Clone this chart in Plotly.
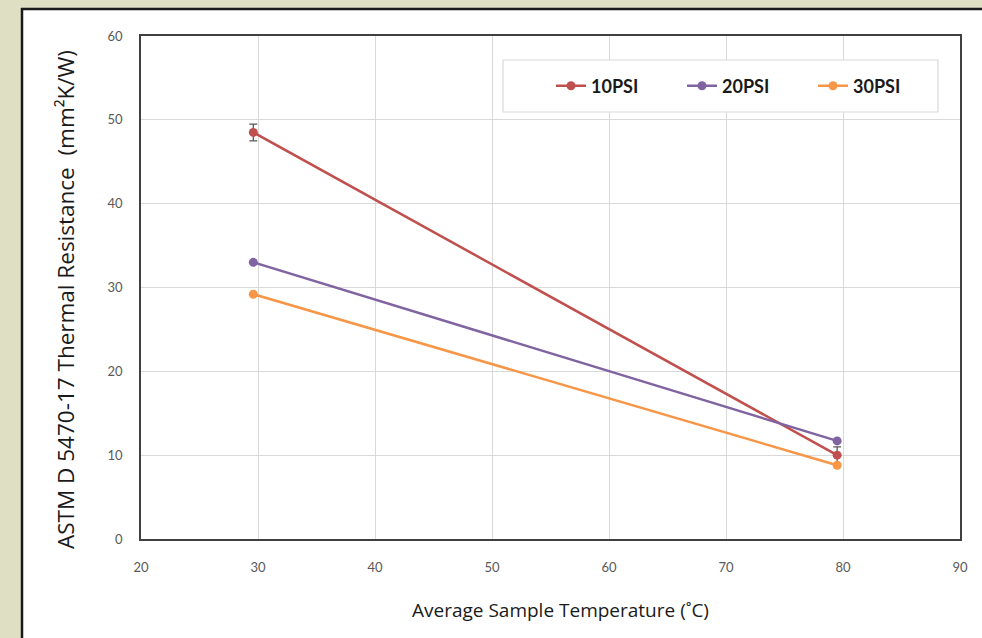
import plotly.graph_objects as go

temps = [29.6, 79.5]
psi10 = [48.5, 10.0]
psi10_err = [1.0, 1.0]
psi20 = [33.0, 11.7]
psi30 = [29.2, 8.8]
names = ["10PSI", "20PSI", "30PSI"]
colors = ["#c0504d", "#8064a2", "#f79646"]

W, H = 982, 638
L, R, T, B = 141, 960, 36, 539

fig = go.Figure()
series = [psi10, psi20, psi30]
errs = [psi10_err, None, None]
for nm, ys, c, e in zip(names, series, colors, errs):
    kw = {}
    if e is not None:
        kw["error_y"] = dict(type="data", array=e, visible=True, color="#595959",
                             thickness=1.3, width=4)
    fig.add_trace(go.Scatter(x=temps, y=ys, name=nm, mode="lines+markers",
                             line=dict(color=c, width=2.5),
                             marker=dict(color=c, size=9), **kw))

def px_x(p):
    return (p - L) / (R - L)

def px_y(p):
    return (B - p) / (B - T)

shapes = [
    dict(type="rect", xref="paper", yref="paper", x0=px_x(21), x1=px_x(W + 5),
         y0=px_y(H + 5), y1=px_y(8), fillcolor="white", line=dict(width=0), layer="below"),
    dict(type="line", xref="paper", yref="paper", x0=px_x(22), x1=px_x(22),
         y0=px_y(H + 5), y1=px_y(8), line=dict(color="#1a1a1a", width=2.5), layer="below"),
    dict(type="line", xref="paper", yref="paper", x0=px_x(21), x1=px_x(W + 5),
         y0=px_y(9), y1=px_y(9), line=dict(color="#1a1a1a", width=2.5), layer="below"),
    dict(type="rect", xref="paper", yref="paper", x0=px_x(503), x1=px_x(938),
         y0=px_y(112), y1=px_y(60), fillcolor="white",
         line=dict(color="#d9d9d9", width=1.2), layer="above"),
]

annotations = [
    dict(text="ASTM D 5470-17 Thermal Resistance  (mm²K/W)", xref="paper", yref="paper",
         x=px_x(65), y=px_y(300), xanchor="center", yanchor="middle", textangle=-90,
         showarrow=False, font=dict(family="Open Sans, sans-serif", size=22.5, color="#1a1a1a")),
    dict(text="Average Sample Temperature (˚C)", xref="paper", yref="paper",
         x=px_x(560), y=px_y(610), xanchor="center", yanchor="middle",
         showarrow=False, font=dict(family="Open Sans, sans-serif", size=19, color="#1a1a1a")),
]

fig.update_layout(
    width=W, height=H,
    margin=dict(l=L, r=W - R, t=T, b=H - B, pad=0),
    paper_bgcolor="#dfdfc4",
    plot_bgcolor="white",
    shapes=shapes,
    annotations=annotations,
    showlegend=True,
    legend=dict(orientation="h", x=px_x(551), xanchor="left", y=px_y(86), yanchor="middle",
                bgcolor="rgba(0,0,0,0)", borderwidth=0,
                font=dict(family="Lato, Open Sans, sans-serif", size=18, color="#1a1a1a", weight="bold"),
                entrywidth=86, entrywidthmode="pixels"),
    xaxis=dict(range=[20, 90], dtick=10, showgrid=True, gridcolor="#d9d9d9", gridwidth=1.3,
               showline=True, linecolor="#404040", linewidth=1.5, mirror=True, zeroline=False,
               ticks="", ticklabelstandoff=16,
               tickfont=dict(family="Lato, Open Sans, sans-serif", size=13, color="#595959")),
    yaxis=dict(range=[0, 60], dtick=10, showgrid=True, gridcolor="#d9d9d9", gridwidth=1.3,
               showline=True, linecolor="#404040", linewidth=1.5, mirror=True, zeroline=False,
               ticks="", ticklabelstandoff=14,
               tickfont=dict(family="Lato, Open Sans, sans-serif", size=13, color="#595959")),
)

fig.write_html("out.html", config={"displayModeBar": False},
               post_script="document.body.style.margin='0';document.body.style.padding='0';")
